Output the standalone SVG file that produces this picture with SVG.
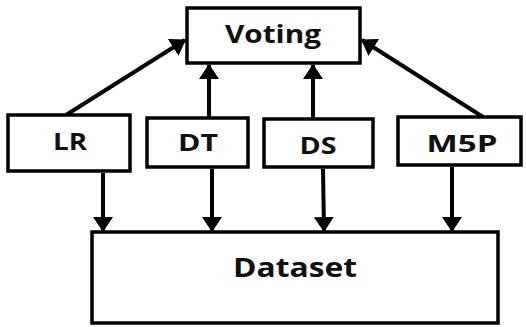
<svg xmlns="http://www.w3.org/2000/svg" width="526" height="327" viewBox="0 0 526 327">
<defs>
<style>
.box{fill:#fff;stroke:#000;stroke-width:3.5}
.lbl{font-family:"Open Sans","Liberation Sans",sans-serif;font-weight:bold;fill:#111;text-anchor:middle}
.c{stroke:#000;stroke-width:4;fill:none}
</style>
<marker id="ah" viewBox="0 0 15 20" refX="14" refY="10" markerWidth="3.75" markerHeight="5" markerUnits="strokeWidth" orient="auto">
<path d="M0,0 L15,10 L0,20 z" fill="#000"/>
</marker>
</defs>
<rect width="526" height="327" fill="#fff"/>
<g id="connectors">
<line class="c" x1="66" y1="115" x2="185" y2="40" marker-end="url(#ah)"/>
<line class="c" x1="209" y1="117" x2="209" y2="65" marker-end="url(#ah)"/>
<line class="c" x1="313" y1="119" x2="313" y2="65" marker-end="url(#ah)"/>
<line class="c" x1="483" y1="117" x2="362" y2="40" marker-end="url(#ah)"/>
<line class="c" x1="103" y1="173" x2="103" y2="231" marker-end="url(#ah)"/>
<line class="c" x1="212" y1="169" x2="212" y2="231" marker-end="url(#ah)"/>
<line class="c" x1="323" y1="169" x2="324" y2="231" marker-end="url(#ah)"/>
<line class="c" x1="452" y1="167" x2="452" y2="231" marker-end="url(#ah)"/>
</g>
<g id="voting"><rect class="box" x="187" y="8" width="173" height="55"/><text class="lbl" x="273" y="43" font-size="25" textLength="96" lengthAdjust="spacingAndGlyphs">Voting</text></g>
<g id="lr"><rect class="box" x="8" y="115" width="122" height="56"/><text class="lbl" x="70" y="150" font-size="23" textLength="34" lengthAdjust="spacingAndGlyphs">LR</text></g>
<g id="dt"><rect class="box" x="147" y="118" width="101" height="49"/><text class="lbl" x="198" y="151" font-size="23" textLength="40" lengthAdjust="spacingAndGlyphs">DT</text></g>
<g id="ds"><rect class="box" x="264" y="119" width="109" height="48"/><text class="lbl" x="318" y="154" font-size="23" textLength="37" lengthAdjust="spacingAndGlyphs">DS</text></g>
<g id="m5p"><rect class="box" x="398" y="117" width="123" height="48"/><text class="lbl" x="462" y="152" font-size="23" textLength="71" lengthAdjust="spacingAndGlyphs">M5P</text></g>
<g id="dataset"><rect class="box" x="92" y="232" width="406" height="91"/><text class="lbl" x="295" y="277" font-size="26" textLength="124" lengthAdjust="spacingAndGlyphs">Dataset</text></g>
</svg>
